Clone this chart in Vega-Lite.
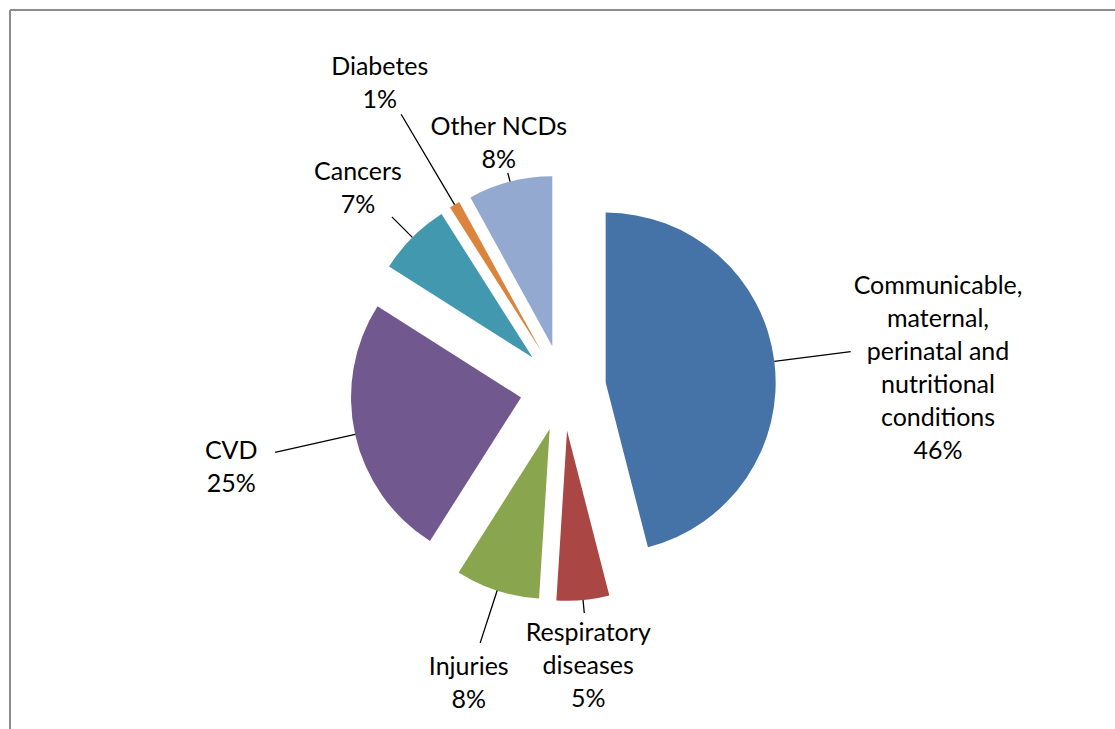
{
  "$schema": "https://vega.github.io/schema/vega-lite/v6.json",
  "width": 1106,
  "height": 756,
  "autosize": "none",
  "padding": {"left": 10, "top": 10, "right": 0, "bottom": 0},
  "background": "white",
  "config": {"view": {"stroke": null}, "font": "Lato"},
  "data": {
    "values": [
      {"cause": "Communicable, maternal, perinatal and nutritional conditions", "share": 46, "label": "Communicable,\nmaternal,\nperinatal and\nnutritional\nconditions\n46%"},
      {"cause": "Respiratory diseases", "share": 5, "label": "Respiratory\ndiseases\n5%"},
      {"cause": "Injuries", "share": 8, "label": "Injuries\n8%"},
      {"cause": "CVD", "share": 25, "label": "CVD\n25%"},
      {"cause": "Cancers", "share": 7, "label": "Cancers\n7%"},
      {"cause": "Diabetes", "share": 1, "label": "Diabetes\n1%"},
      {"cause": "Other NCDs", "share": 8, "label": "Other NCDs\n8%"}
    ]
  },
  "transform": [{"stack": "share", "groupby": [], "as": ["s0", "s1"]}],
  "layer": [
    {
      "transform": [{"aggregate": [{"op": "count", "as": "n"}]}],
      "mark": {"type": "rule", "stroke": "#8c8c8c", "strokeWidth": 2},
      "encoding": {"y": {"value": 0}}
    },
    {
      "transform": [{"aggregate": [{"op": "count", "as": "n"}]}],
      "mark": {"type": "rule", "stroke": "#8c8c8c", "strokeWidth": 2},
      "encoding": {"x": {"value": 0}}
    },
    {
      "mark": {
        "type": "arc",
        "radius": 170,
        "xOffset": {"expr": "43*sin(PI*(datum.s0+datum.s1)/100)"},
        "yOffset": {"expr": "-43*cos(PI*(datum.s0+datum.s1)/100)"}
      },
      "encoding": {
        "theta": {"field": "s0", "type": "quantitative", "scale": {"domain": [0, 100]}, "stack": null},
        "theta2": {"field": "s1"},
        "color": {
          "field": "cause",
          "type": "nominal",
          "scale": {
            "domain": ["Communicable, maternal, perinatal and nutritional conditions", "Respiratory diseases", "Injuries", "CVD", "Cancers", "Diabetes", "Other NCDs"],
            "range": ["#4572A7", "#AA4643", "#89A54E", "#71588F", "#4198AF", "#DB843D", "#93A9CF"]
          },
          "legend": null
        }
      }
    },
    {
      "mark": {
        "type": "arc",
        "filled": false,
        "stroke": "#000000",
        "strokeWidth": 1.3,
        "theta": {"expr": "PI*(datum.s0+datum.s1)/100"},
        "theta2": {"expr": "PI*(datum.s0+datum.s1)/100"},
        "radius": {"expr": "{'Communicable, maternal, perinatal and nutritional conditions': 290, 'Respiratory diseases': 226, 'Injuries': 268, 'CVD': 295, 'Cancers': 242, 'Diabetes': 318, 'Other NCDs': 222}[datum.cause]"},
        "radius2": 213
      },
      "encoding": {}
    },
    {
      "mark": {
        "type": "text",
        "fontSize": 25,
        "lineHeight": 33,
        "lineBreak": "\n",
        "color": "#000000",
        "align": "center",
        "baseline": "middle",
        "dy": {"expr": "-11*(length(split(datum.label, '\\n'))-1)"},
        "theta": {"expr": "PI*(datum.s0+datum.s1)/100"},
        "radius": {"expr": "{'Communicable, maternal, perinatal and nutritional conditions': 378, 'Respiratory diseases': 268, 'Injuries': 305, 'CVD': 340, 'Cancers': 290, 'Diabetes': 360, 'Other NCDs': 258}[datum.cause]"}
      },
      "encoding": {"text": {"field": "label"}}
    }
  ]
}
